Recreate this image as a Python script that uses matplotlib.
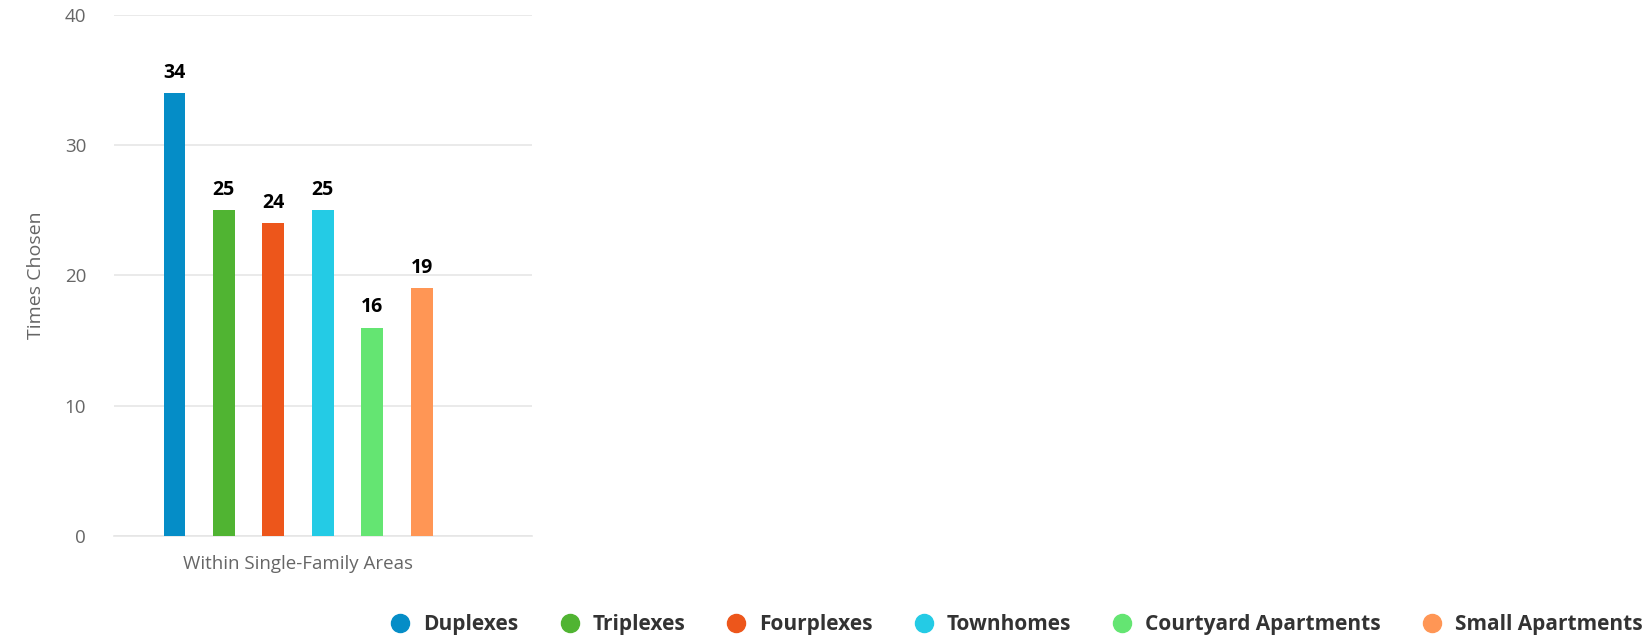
import numpy as np
import matplotlib.pyplot as plt
from matplotlib.lines import Line2D

category = 'Within Single-Family Areas'
series = ['Duplexes', 'Triplexes', 'Fourplexes', 'Townhomes',
          'Courtyard Apartments', 'Small Apartments']
values = [34, 25, 24, 25, 16, 19]
colors = ['#058DC7', '#50B432', '#ED561B', '#24CBE5', '#64E572', '#FF9655']

plt.rcParams['font.family'] = ['Open Sans', 'DejaVu Sans']

fig = plt.figure(figsize=(16.51, 6.35), dpi=100)
ax = fig.add_axes([0.069, 0.156, 0.253, 0.8205])

# 7 slots in the group (last one empty), like the original layout
spacing = 0.1184
pos = (np.arange(len(values)) - 3) * spacing
bars = ax.bar(pos, values, width=0.052, color=colors, zorder=3)

for x, v in zip(pos, values):
    ax.text(x, v + 0.8, str(v), ha='center', va='bottom', fontsize=14,
            fontweight='bold', color='#000000')

ax.set_xlim(-0.5, 0.5)
ax.set_ylim(0, 40)
ax.set_yticks([0, 10, 20, 30, 40])
ax.set_xticks([pos.mean()])
ax.set_xticklabels([category])
ax.grid(axis='y', color='#e6e6e6', linewidth=1.2, zorder=0)
for s in ['top', 'right', 'left']:
    ax.spines[s].set_visible(False)
ax.spines['bottom'].set_color('#e6e6e6')
ax.spines['bottom'].set_linewidth(1.2)
ax.tick_params(axis='both', length=0, labelsize=13.5, colors='#666666')
ax.tick_params(axis='x', pad=14)
ax.tick_params(axis='y', pad=20)
ax.set_ylabel('Times Chosen', fontsize=14, color='#666666', labelpad=14)

handles = [Line2D([0], [0], marker='o', linestyle='', markersize=13,
                  markerfacecolor=c, markeredgecolor=c) for c in colors]
leg = fig.legend(handles, series, loc='lower right', ncol=6, frameon=False,
                 bbox_to_anchor=(1.006, -0.03), columnspacing=1.45,
                 handletextpad=0.1, prop={'weight': 'bold', 'size': 15})
for t in leg.get_texts():
    t.set_color('#333333')

fig.savefig('out.png', dpi=100)
